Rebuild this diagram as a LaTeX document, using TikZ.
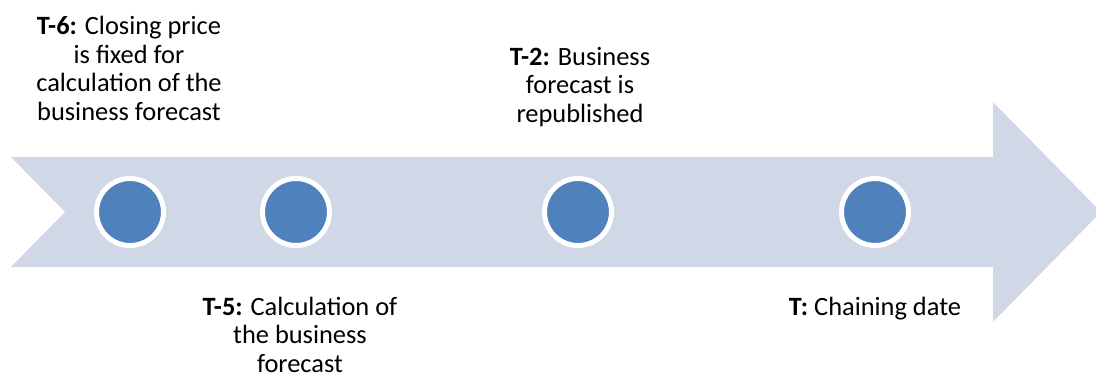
\documentclass[tikz,border=0pt]{standalone}
\usepackage{fontspec}
\setmainfont{Carlito}
\definecolor{arrowfill}{HTML}{D0D8E8}
\definecolor{dotblue}{HTML}{4F81BD}
\begin{document}
\begin{tikzpicture}[x=1pt,y=-1pt,
  dot/.style={circle,fill=dotblue,draw=white,line width=5pt,minimum size=67pt,inner sep=0pt},
  label/.style={align=center,inner sep=0pt,font=\fontsize{26.4}{28.5}\selectfont,anchor=base}]
\useasboundingbox (0,0) rectangle (1096,376);
\fill[arrowfill] (11,157) -- (993,157) -- (993,102) -- (1101,212) -- (993,322) -- (993,267) -- (11,267) -- (65,212) -- cycle;
\node[dot] (c1) at (130,212) {};
\node[dot] (c2) at (296,212) {};
\node[dot] (c3) at (578,212) {};
\node[dot] (c4) at (875,212) {};
\node[label] (t6) at (129,120) {\textbf{T-6:} Closing price\\is fixed for\\calculation of the\\business forecast};
\node[label] (t2) at (580,122) {\textbf{T-2:} Business\\forecast is\\republished};
\node[label] (t5) at (300,372) {\textbf{T-5:} Calculation of\\the business\\forecast};
\node[label] (t0) at (875,315) {\textbf{T:} Chaining date};
\end{tikzpicture}
\end{document}
